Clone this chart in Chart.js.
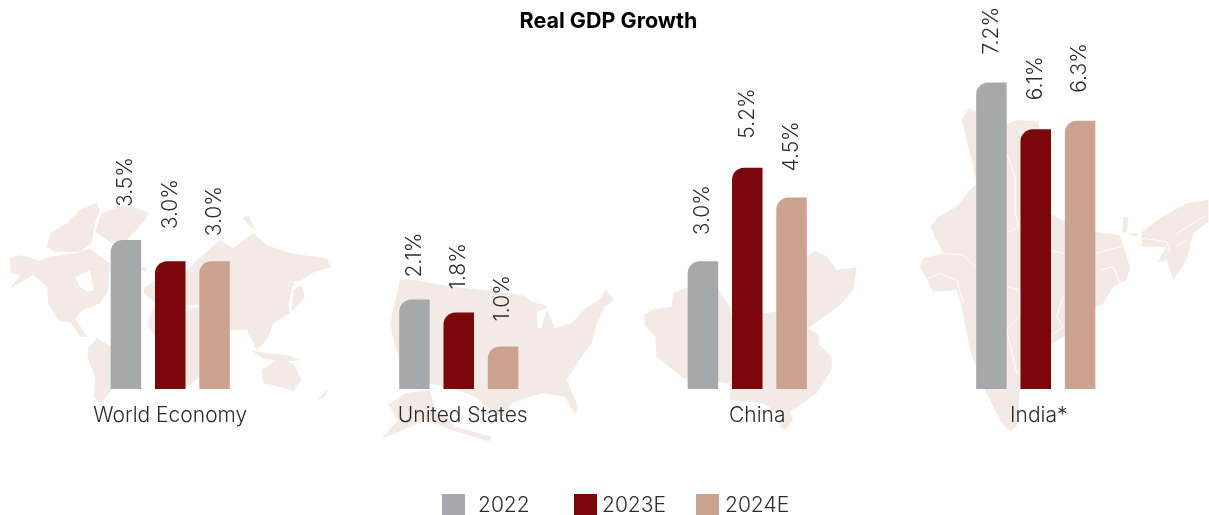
<!DOCTYPE html>
<html><head><meta charset="utf-8">
<style>html,body{margin:0;padding:0;background:#fff}#c{display:block}</style>
<script src="https://cdn.jsdelivr.net/npm/chart.js@4"></script>
</head><body>
<div style="width:1209px;height:515px"><canvas id="c" width="1209" height="515"></canvas></div>
<script>
const categories = ["World Economy","United States","China","India*"];
const seriesNames = ["2022","2023E","2024E"];
const values2022 = [3.5,2.1,3.0,7.2];
const values2023E = [3.0,1.8,5.2,6.1];
const values2024E = [3.0,1.0,4.5,6.3];
const labelGap2022 = [33,22,26,28];
const labelGap2023E = [32,23,29,29];
const labelGap2024E = [25,25,26,28];
const tickShift = [0,4,10,3];
const colors = ["#a6a8ab","#7a0709","#cba190"];
const FONT = 'Inter';
const MAPFILL = "#f3e9e5";
const legendBoxX = [442,574,696];
const legendTextX = [478,602,725];

const worldShapes = [
 [[28,205],[60,195],[120,212],[145,200],[230,190],[270,175],[300,200],[330,220],[325,300],[300,340],[250,360],[225,385],[262,440],[240,440],[215,400],[175,390],[145,340],[140,290],[100,255],[30,295],[60,255],[32,250]],
 [[140,170],[150,130],[200,100],[240,60],[290,38],[300,60],[285,100],[275,160],[240,185],[160,185]],
 [[285,125],[305,70],[370,45],[445,65],[440,85],[400,130],[360,170],[335,160]],
 [[265,475],[290,445],[335,470],[345,520],[335,600],[300,645],[282,620],[285,560],[262,500]],
 [[435,290],[470,270],[560,240],[620,185],[660,150],[700,175],[760,130],[800,165],[870,190],[980,205],[995,232],[945,245],[905,270],[880,275],[865,345],[870,370],[820,400],[800,450],[770,480],[740,420],[700,420],[650,420],[610,470],[600,560],[560,590],[500,590],[480,460],[440,400],[470,340],[430,310]],
 [[730,85],[745,75],[765,120],[745,105]],
 [[880,300],[905,285],[915,320],[875,365]],
 [[420,232],[442,232],[435,245]],
 [[785,540],[830,510],[880,520],[905,570],[880,605],[840,590],[790,580]],
 [[750,480],[800,490],[860,495],[905,510],[850,515],[790,505]],
 [[950,632],[985,595],[975,620]],
 [[855,268],[890,285],[860,280]]
];
const worldLakes = [[[225,262],[270,240],[280,300],[262,305],[240,290]],[[560,345],[600,345],[590,355],[565,355]]];
const usShapes = [
 [[75,150],[105,148],[230,170],[340,182],[440,195],[470,215],[510,225],[540,295],[590,280],[630,235],[680,205],[690,178],[718,210],[690,230],[665,280],[650,340],[620,380],[575,450],[610,530],[600,555],[570,500],[500,490],[450,505],[410,520],[380,560],[350,540],[300,500],[250,480],[160,460],[90,430],[60,350],[45,280]],
 [[40,525],[90,490],[165,480],[180,540],[240,590],[350,620],[345,635],[230,600],[150,570],[60,610],[20,625],[70,570]]
];
const usLakes = [[[485,245],[515,235],[500,295],[488,295]]];
const chinaShapes = [
 [[42,255],[70,238],[125,230],[130,190],[175,170],[265,180],[300,230],[305,260],[400,250],[438,245],[530,200],[528,80],[555,62],[590,80],[620,120],[680,112],[670,180],[625,230],[580,260],[535,295],[570,315],[565,340],[605,380],[605,420],[560,490],[480,545],[490,570],[465,600],[450,590],[460,560],[400,520],[300,510],[300,460],[160,445],[80,380],[75,320],[45,285]]
];
const indiaShapes = [
 [[185,90],[205,55],[240,70],[300,110],[350,90],[415,95],[420,130],[450,190],[450,370],[540,420],[660,435],[690,530],[680,570],[640,590],[610,640],[540,680],[490,740],[440,770],[400,850],[360,900],[350,1010],[330,1025],[300,990],[250,890],[210,780],[185,650],[170,600],[100,605],[60,530],[70,505],[130,490],[90,410],[115,380],[170,350],[205,305],[230,280],[210,190]],
 [[725,425],[780,385],[860,340],[925,330],[925,395],[880,430],[860,510],[820,570],[800,510],[770,520],[800,470],[725,470]],
 [[670,380],[685,380],[680,430],[715,430],[710,440],[668,425]]
];
const indiaLines = [
 [[130,490],[190,495],[225,530]],[[70,570],[120,550],[170,570],[190,640]],
 [[320,430],[355,410],[345,360],[345,260],[320,190]],[[320,590],[360,600],[360,680],[320,720],[350,850]],
 [[450,480],[490,490],[590,490],[660,470],[680,440]],[[600,540],[640,530],[660,580]],
 [[490,620],[470,680],[490,710],[455,735]],[[725,445],[800,455],[810,490]],
 [[830,430],[920,375]],[[830,470],[860,450]]
];
const mapGroups = [
 {o:[0,190],s:worldShapes,h:worldLakes},{o:[375,230],s:usShapes,h:usLakes},
 {o:[630,230],s:chinaShapes,h:[]},{o:[900,90],s:indiaShapes,h:[],l:indiaLines}
];
const mapsPlugin = {id:'maps',beforeDraw(chart){
 const c=chart.ctx;c.save();
 const trace=(pts,o)=>{c.beginPath();pts.forEach((p,i)=>{const x=o[0]+p[0]/3,y=o[1]+p[1]/3;i?c.lineTo(x,y):c.moveTo(x,y);});};
 for(const g of mapGroups){
  c.fillStyle=MAPFILL;for(const s of g.s){trace(s,g.o);c.closePath();c.fill();}
  c.fillStyle="#fff";for(const s of g.h){trace(s,g.o);c.closePath();c.fill();}
  if(g.l){c.strokeStyle="#fff";c.lineWidth=1;for(const s of g.l){trace(s,g.o);c.stroke();}}
 }
 c.restore();
 // nudge the title and category labels to their reference positions
 chart.titleBlock.left+=5.5;chart.titleBlock.right+=5.5;
 chart.scales.x.getLabelItems(chart.chartArea).forEach((it,i)=>{it.options.translation[0]+=tickShift[i];});
}};
const gaps=[labelGap2022,labelGap2023E,labelGap2024E];
const labelsPlugin = {id:'valueLabels',afterDatasetsDraw(chart){
 const c=chart.ctx;c.save();c.fillStyle="#2b2b2b";c.font='300 21px '+FONT;c.textAlign='left';c.textBaseline='middle';
 chart.data.datasets.forEach((d,di)=>{chart.getDatasetMeta(di).data.forEach((b,i)=>{
  c.save();c.translate(b.x,b.y-gaps[di][i]);c.rotate(-Math.PI/2);c.fillText(d.data[i].toFixed(1)+'%',0,0);c.restore();
 });});
 c.restore();
}};
const legendPlugin = {id:'keyRow',afterDraw(chart){
 const c=chart.ctx;c.save();c.font='300 21px '+FONT;c.textAlign='left';c.textBaseline='middle';
 chart.data.datasets.forEach((d,i)=>{
  c.fillStyle=d.backgroundColor;c.fillRect(legendBoxX[i],494,23,22);
  c.fillStyle="#2b2b2b";c.fillText(d.label,legendTextX[i],506);
 });
 c.restore();
}};
const mk=(name,vals,col)=>({label:name,data:vals,backgroundColor:col,borderWidth:0,borderRadius:{topLeft:12,topRight:0,bottomLeft:0,bottomRight:0},borderSkipped:false,categoryPercentage:0.461,barPercentage:0.688});
new Chart(document.getElementById('c'),{
 type:'bar',
 data:{labels:categories,datasets:[mk(seriesNames[0],values2022,colors[0]),mk(seriesNames[1],values2023E,colors[1]),mk(seriesNames[2],values2024E,colors[2])]},
 plugins:[mapsPlugin,labelsPlugin,legendPlugin],
 options:{responsive:false,animation:false,
  layout:{padding:{left:26,right:29,top:0,bottom:0}},
  plugins:{tooltip:{enabled:false},legend:{display:false},
   title:{display:true,text:"Real GDP Growth",color:"#000",font:{family:FONT,size:21.5,weight:'700'},padding:{top:9,bottom:13.7}}},
  scales:{
   x:{grid:{display:false},border:{display:false},afterFit(s){s.height=126;},ticks:{padding:6,color:"#2b2b2b",font:{family:FONT,size:21,weight:'300'}}},
   y:{display:false,min:0,max:8}
  }}
});
</script></body></html>
